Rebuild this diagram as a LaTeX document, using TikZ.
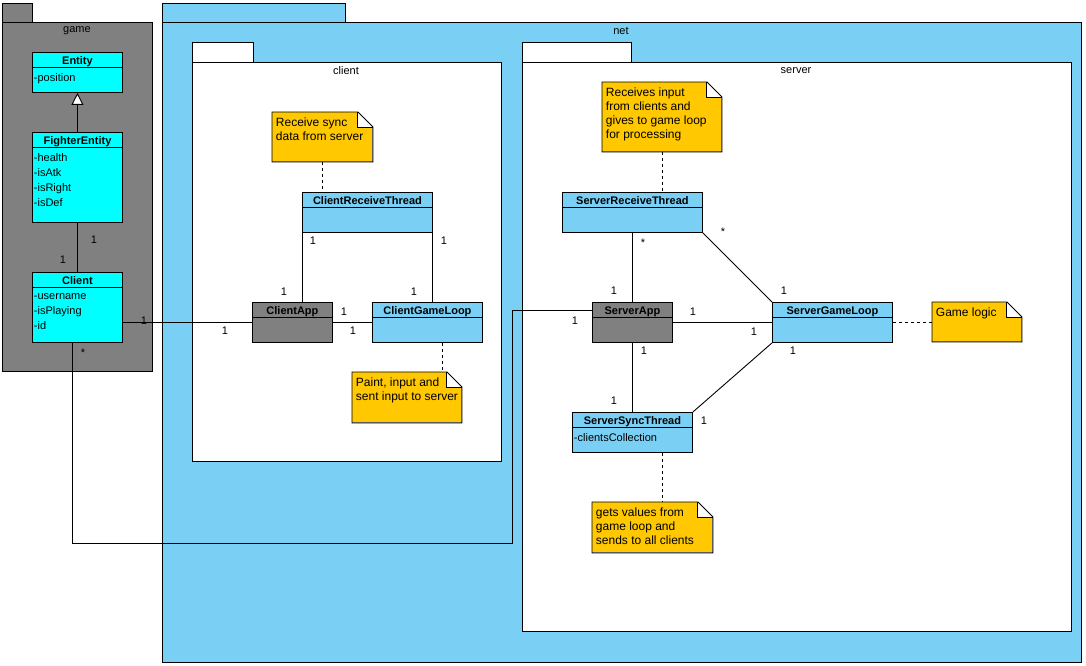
\documentclass[tikz,border=0pt]{standalone}
\usepackage{fontspec}
\setmainfont{Liberation Sans}
\usepackage{tikz}
\usetikzlibrary{arrows.meta,positioning}
\definecolor{netblue}{RGB}{122,207,245}
\definecolor{notegold}{RGB}{255,200,0}
\definecolor{pkggray}{RGB}{128,128,128}
\definecolor{classcyan}{RGB}{0,255,255}

\begin{document}
\begin{tikzpicture}[x=1pt, y=-1pt, line width=0.9pt,
    every node/.style={font=\fontsize{11}{13}\selectfont},
    head/.style={draw, anchor=north west, inner sep=0pt, minimum height=15pt, text height=10pt, text depth=1pt, font=\fontsize{11}{13}\selectfont\bfseries},
    body/.style 2 args={draw, anchor=north west, inner sep=0pt, font=\fontsize{11}{15}\selectfont,
        execute at begin node={\begin{minipage}[t][#2][t]{#1}\hrule height 0pt width #1\raggedright\leftskip=1.5pt\vspace*{6pt}},
        execute at end node={\end{minipage}}},
    note/.style 2 args={fill=notegold, anchor=north west, inner sep=0pt, font=\fontsize{12}{14}\selectfont,
        execute at begin node={\begin{minipage}[t][#2][t]{#1}\hrule height 0pt width #1\raggedright\leftskip=3.5pt\vspace*{5pt}},
        execute at end node={\end{minipage}}},
    mult/.style={inner sep=0pt, text height=8pt, text depth=0pt}]
    \fill[white] (0,0) rectangle (1086,666);
    \useasboundingbox (0,0) rectangle (1086,666);

    \draw[fill=netblue] (162,3) rectangle (345,22);
    \draw[fill=netblue] (162,22) rectangle (1081,662);
    \draw[fill=white] (192,42) rectangle (253,62);
    \draw[fill=white] (192,62) rectangle (501,461);
    \draw[fill=white] (522,42) rectangle (631,62);
    \draw[fill=white] (522,62) rectangle (1071,631);
    \draw[fill=pkggray] (2,3) rectangle (32,22);
    \draw[fill=pkggray] (2,22) rectangle (152,371);
    \node (gamename) at (77,31) {game};
    \node (netname) at (621,31) {net};
    \node (clientname) at (346,71) {client};
    \node (servername) at (796,71) {server};

    \node[head, fill=classcyan, minimum width=90pt] (ent) at (32,52) {Entity};
    \node[body={90pt}{25pt}, fill=classcyan] (entb) at (32,67) {-position};
    \node[head, fill=classcyan, minimum width=90pt] (fighter) at (32,132) {FighterEntity};
    \node[body={90pt}{75pt}, fill=classcyan] (fighterb) at (32,147) {-health\\-isAtk\\-isRight\\-isDef};
    \node[head, fill=classcyan, minimum width=90pt] (client) at (32,272) {Client};
    \node[body={90pt}{55pt}, fill=classcyan] (clientb) at (32,287) {-username\\-isPlaying\\-id};

    \node[head, fill=netblue, minimum width=130pt] (crt) at (302,192) {ClientReceiveThread};
    \node[body={130pt}{25pt}, fill=netblue] (crtb) at (302,207) {};
    \node[head, fill=pkggray, minimum width=80pt] (capp) at (252,302) {ClientApp};
    \node[body={80pt}{25pt}, fill=pkggray] (cappb) at (252,317) {};
    \node[head, fill=netblue, minimum width=110pt] (cgl) at (372,302) {ClientGameLoop};
    \node[body={110pt}{25pt}, fill=netblue] (cglb) at (372,317) {};

    \node[head, fill=netblue, minimum width=140pt] (srt) at (562,192) {ServerReceiveThread};
    \node[body={140pt}{25pt}, fill=netblue] (srtb) at (562,207) {};
    \node[head, fill=pkggray, minimum width=80pt] (sapp) at (592,302) {ServerApp};
    \node[body={80pt}{25pt}, fill=pkggray] (sappb) at (592,317) {};
    \node[head, fill=netblue, minimum width=120pt] (sgl) at (772,302) {ServerGameLoop};
    \node[body={120pt}{25pt}, fill=netblue] (sglb) at (772,317) {};
    \node[head, fill=netblue, minimum width=120pt] (sst) at (572,412) {ServerSyncThread};
    \node[body={120pt}{25pt}, fill=netblue] (sstb) at (572,427) {-clientsCollection};

    \node[note={100pt}{49pt}] (syncnote) at (272,112) {Receive sync\\data from server};
    \node[note={109pt}{50pt}] (paintnote) at (352,372) {Paint, input and\\sent input to server};
    \node[note={119pt}{69pt}] (inputnote) at (602,82) {Receives input\\from clients and\\gives to game loop\\for processing};
    \node[note={89pt}{39pt}] (logicnote) at (932,302) {Game logic};
    \node[note={120pt}{50pt}] (valuesnote) at (592,502) {gets values from\\game loop and\\sends to all clients};
    \foreach \n in {syncnote,paintnote,inputnote,logicnote,valuesnote} {
        \fill[white] ([xshift=-15pt]\n.north east) rectangle ([yshift=-15pt]\n.north east);
        \draw (\n.north west) -- ([xshift=-15pt]\n.north east) -- ([yshift=-15pt]\n.north east) -- (\n.south east) -- (\n.south west) -- cycle;
        \draw ([xshift=-15pt]\n.north east) |- ([yshift=-15pt]\n.north east);
    }

    \coordinate (mid) at (0,322);
    \coordinate (turnA) at (72,543);
    \coordinate (turnB) at (512,543);

    \draw[-{Triangle[fill=white, width=12pt, length=12pt]}] (fighter.north) -- (entb.south);
    \draw (fighterb.south) -- (client.north);
    \draw (clientb.east |- mid) -- (cappb.west |- mid);
    \draw (clientb.south -| turnA) |- (turnB) |- (sapp.west);

    \draw (crtb.south west) -- (capp.north -| crtb.south west);
    \draw (crtb.south east) -- (cgl.north -| crtb.south east);
    \draw (cappb.east |- mid) -- (cglb.west |- mid);
    \draw[dashed] (syncnote.south) -- (crt.north -| syncnote.south);
    \draw[dashed] ([xshift=15pt]cglb.south) -- ([xshift=15pt]cglb.south |- paintnote.north);

    \draw[dashed] (inputnote.south) -- (srt.north -| inputnote.south);
    \draw (srtb.south) -- (sapp.north);
    \draw (srtb.south east) -- (sgl.north west);
    \draw (sappb.east |- mid) -- (sglb.west |- mid);
    \draw (sappb.south) -- (sst.north);
    \draw (sst.north east) -- (sglb.south west);
    \draw[dashed] (sglb.east |- mid) -- (logicnote.west |- mid);
    \draw[dashed] ([xshift=30pt]sstb.south) -- ([xshift=30pt]sstb.south |- valuesnote.north);

    \foreach \x/\y/\t [count=\i] in {94/239/1, 63/259/1, 144/320/1, 83/352/*, 225/330/1,
        313/240/1, 444/240/1, 284/291/1, 414/291/1, 344/311/1, 353/330/1,
        643/242/*, 723/231/*, 614/290/1, 784/290/1, 693/311/1, 575/320/1, 754/331/1,
        644/350/1, 793/350/1, 614/400/1, 704/420/1}
        \node[mult] (m\i) at (\x,\y) {\t};
\end{tikzpicture}
\end{document}
